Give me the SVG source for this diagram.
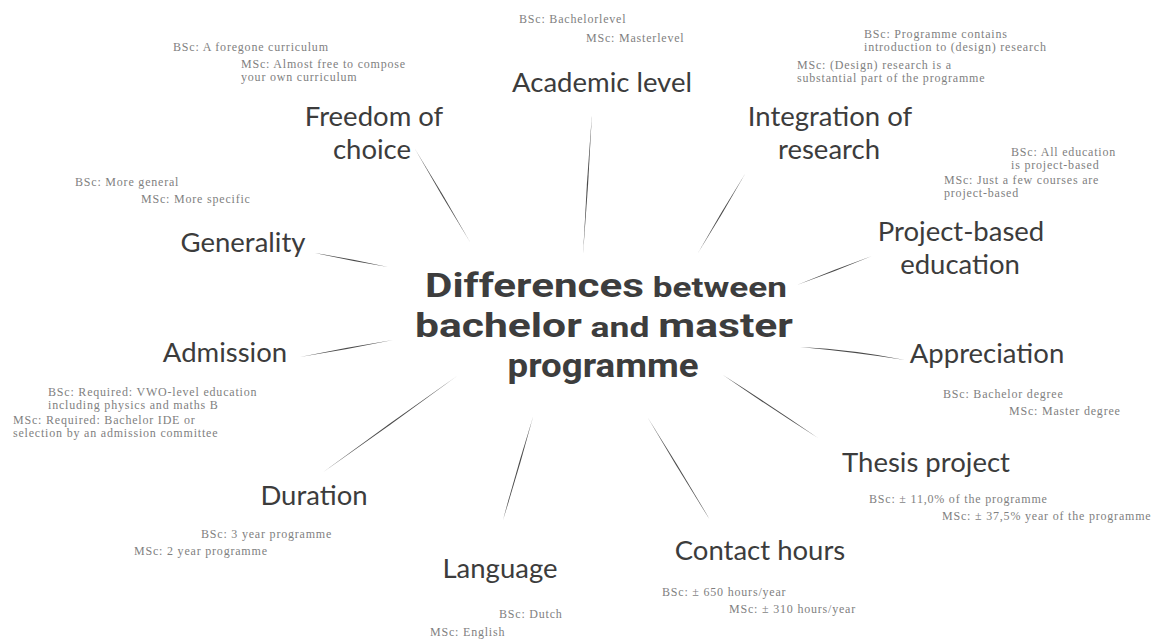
<svg xmlns="http://www.w3.org/2000/svg" width="1157" height="640" viewBox="0 0 1157 640">
  <style>
    .title { font-family: Roboto, Lato, sans-serif; font-weight: 700; fill: #3d3d3d; text-anchor: middle; }
    .big { font-size: 33px; }
    .mid { font-size: 27.5px; }
    .label { font-family: Lato, "Noto Sans", sans-serif; font-size: 27.5px; fill: #3c3c3c; text-anchor: middle; }
    .note { font-family: "Liberation Serif", "DejaVu Serif", serif; font-size: 12px; letter-spacing: 0.8px; fill: #7f7f7f; }
    .link { fill: #4a4a4a; stroke: none; }
  </style>

  <rect width="1157" height="640" fill="#ffffff"/>

  <!-- tapered spokes from the centre title to each topic -->
  <g id="connectors">
    <path class="link" d="M592,113 Q588.7,184.1 583,255 Q586.3,183.9 592,113 Z"/>
    <path class="link" d="M745,174 Q722.5,214.1 698,253 Q720.5,212.9 745,174 Z"/>
    <path class="link" d="M415,149 Q443.5,194.9 470,242 Q441.5,196.1 415,149 Z"/>
    <path class="link" d="M315,253 Q351.3,261.2 388,267 Q351.7,258.8 315,253 Z"/>
    <path class="link" d="M797,285 Q834.9,271.6 872,256 Q834.1,269.4 797,285 Z"/>
    <path class="link" d="M300,357 Q346.7,349.7 393,340 Q346.3,347.3 300,357 Z"/>
    <path class="link" d="M800,347 Q854.9,352.2 905,360 Q855.1,349.8 800,347 Z"/>
    <path class="link" d="M457,376 Q390.2,425.5 322,473 Q388.8,423.5 457,376 Z"/>
    <path class="link" d="M533,417 Q519.2,468.8 503,520 Q516.8,468.2 533,417 Z"/>
    <path class="link" d="M648,418 Q680,468.4 710,520 Q678,469.6 648,418 Z"/>
    <path class="link" d="M723,375 Q769.8,407.5 818,438 Q771.2,405.5 723,375 Z"/>
  </g>

  <!-- central topic -->
  <g id="centre">
    <text class="title" x="606" y="297" textLength="362" lengthAdjust="spacingAndGlyphs"><tspan class="big">Differences</tspan><tspan class="mid"> between</tspan></text>
    <text class="title" x="604" y="337" textLength="378" lengthAdjust="spacingAndGlyphs"><tspan class="big">bachelor</tspan><tspan class="mid"> and </tspan><tspan class="big">master</tspan></text>
    <text class="title big" x="603" y="377" textLength="191" lengthAdjust="spacingAndGlyphs">programme</text>
  </g>

  <g id="academic-level">
    <text class="label" x="602" y="92">Academic level</text>
    <text class="note" x="519" y="23">BSc: Bachelorlevel</text>
    <text class="note" x="586" y="42">MSc: Masterlevel</text>
  </g>

  <g id="freedom-of-choice">
    <text class="label" x="374" y="126">Freedom of</text>
    <text class="label" x="372" y="159">choice</text>
    <text class="note" x="173" y="51">BSc: A foregone curriculum</text>
    <text class="note" x="241" y="67.5">MSc: Almost free to compose</text>
    <text class="note" x="241" y="81">your own curriculum</text>
  </g>

  <g id="integration-of-research">
    <text class="label" x="830" y="126">Integration of</text>
    <text class="label" x="829" y="159">research</text>
    <text class="note" x="864" y="37.5">BSc: Programme contains</text>
    <text class="note" x="864" y="51">introduction to (design) research</text>
    <text class="note" x="797" y="68.5">MSc: (Design) research is a</text>
    <text class="note" x="797" y="82">substantial part of the programme</text>
  </g>

  <g id="project-based-education">
    <text class="label" x="961" y="241">Project-based</text>
    <text class="label" x="960" y="274">education</text>
    <text class="note" x="1011" y="155.5">BSc: All education</text>
    <text class="note" x="1011" y="169">is project-based</text>
    <text class="note" x="944" y="183.5">MSc: Just a few courses are</text>
    <text class="note" x="944" y="197">project-based</text>
  </g>

  <g id="generality">
    <text class="label" x="243" y="252">Generality</text>
    <text class="note" x="75" y="186">BSc: More general</text>
    <text class="note" x="141" y="203">MSc: More specific</text>
  </g>

  <g id="admission">
    <text class="label" x="225" y="362">Admission</text>
    <text class="note" x="48" y="395.5">BSc: Required: VWO-level education</text>
    <text class="note" x="48" y="409">including physics and maths B</text>
    <text class="note" x="13" y="423.5">MSc: Required: Bachelor IDE or</text>
    <text class="note" x="13" y="437">selection by an admission committee</text>
  </g>

  <g id="appreciation">
    <text class="label" x="987" y="363">Appreciation</text>
    <text class="note" x="943" y="398">BSc: Bachelor degree</text>
    <text class="note" x="1009" y="415">MSc: Master degree</text>
  </g>

  <g id="thesis-project">
    <text class="label" x="926" y="472">Thesis project</text>
    <text class="note" x="869" y="503">BSc: ± 11,0% of the programme</text>
    <text class="note" x="942" y="520">MSc: ± 37,5% year of the programme</text>
  </g>

  <g id="duration">
    <text class="label" x="314" y="505">Duration</text>
    <text class="note" x="201" y="538">BSc: 3 year programme</text>
    <text class="note" x="134" y="555">MSc: 2 year programme</text>
  </g>

  <g id="language">
    <text class="label" x="500" y="578">Language</text>
    <text class="note" x="499" y="618">BSc: Dutch</text>
    <text class="note" x="430" y="636">MSc: English</text>
  </g>

  <g id="contact-hours">
    <text class="label" x="760" y="560">Contact hours</text>
    <text class="note" x="662" y="596">BSc: ± 650 hours/year</text>
    <text class="note" x="729" y="613">MSc: ± 310 hours/year</text>
  </g>
</svg>
